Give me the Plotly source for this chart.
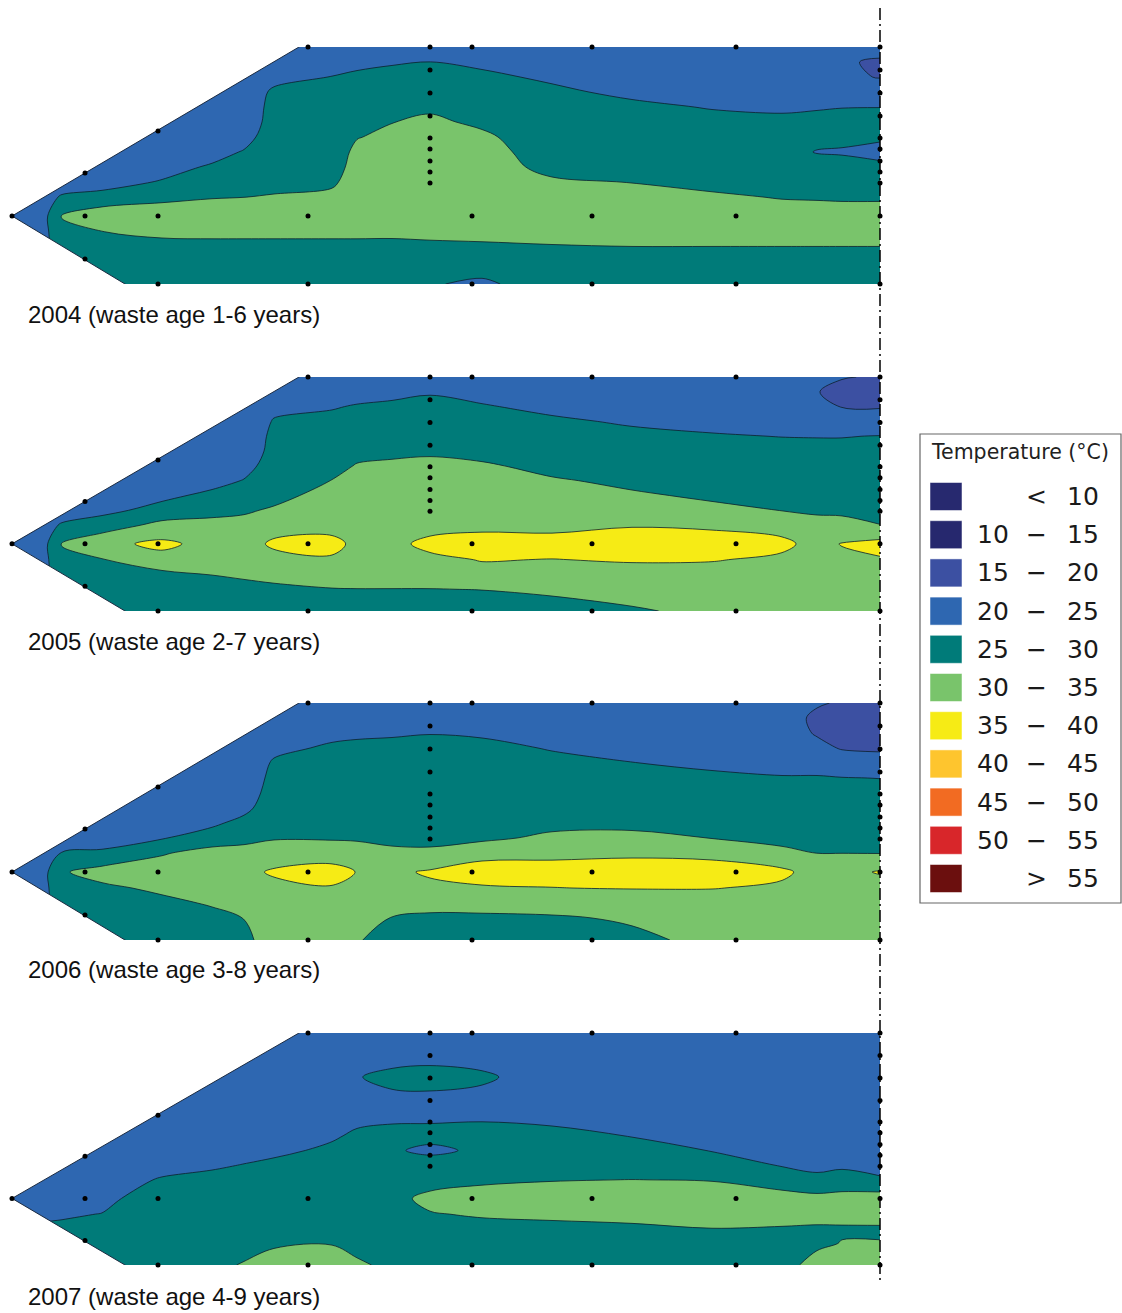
import numpy as np
import plotly.graph_objects as go

# ---------------- data ----------------
# horizontal positions of the interpolation grid (arbitrary units from the toe)
grid_x = [0, 33, 50, 90, 150, 200, 232, 262, 320, 345, 380, 418, 470, 540, 620, 700, 770, 805, 830, 868]
# depth below the top surface
grid_depth = [0, 15, 30, 45, 60, 75, 90, 105, 120, 135, 150, 169, 185, 200, 215, 237]

# temperature (°C) profiles, one list per grid_x column, top -> bottom
temp_2004 = [
    [23, 23, 23, 23, 23, 23, 23, 23, 23, 23, 23, 23, 23, 23, 23, 23],
    [23, 23, 23, 23, 23, 23, 23, 23, 23, 23, 24, 24, 24, 24, 24, 24],
    [22, 22, 22, 22, 22, 22, 22, 22, 23, 23.5, 25.3, 30.3, 28.5, 27.5, 27, 27],
    [22, 22, 22, 22, 22, 22, 22, 22, 23, 23.5, 26.2, 33.5, 29.9, 28, 27.5, 27],
    [22, 22, 22, 22, 22, 22, 22, 22, 23.5, 25.3, 28.5, 33.5, 31, 28.5, 27.5, 27],
    [22, 22, 22, 22, 22, 22, 22, 23.5, 25.5, 27, 29.7, 33, 31, 28.8, 27.5, 27],
    [22, 22, 22, 22, 22, 22, 23.5, 25.3, 26.5, 28, 29.95, 33, 31, 28.8, 27.5, 27],
    [22, 22.5, 23.5, 25.8, 26.5, 27, 27.3, 27.6, 28, 28.8, 30.3, 33, 31, 28.8, 27.5, 27],
    [22.5, 23.5, 25.1, 26, 26.5, 27, 27.3, 27.7, 28.3, 29.3, 31, 33, 31, 28.8, 27.5, 27],
    [23, 24.2, 25.6, 26.5, 27.3, 28.2, 29.8, 31, 31.5, 32, 32.5, 33, 31, 28.8, 27.5, 27],
    [23.5, 24.7, 26, 27, 28.3, 29.9, 31, 31.7, 32, 32.3, 32.6, 33, 31, 28.7, 27.5, 27],
    [23.5, 25.05, 26.3, 27.5, 29.3, 30.8, 31.5, 32, 32.3, 32.6, 32.8, 33, 31.2, 29, 27.2, 25.3],
    [23, 24.4, 25.6, 26.5, 27.5, 29.2, 30.8, 31.7, 32, 32.3, 32.6, 33, 31.3, 29.3, 27, 24.3],
    [22.5, 23.3, 24.5, 25.6, 26.3, 26.8, 27.3, 27.8, 28.8, 30.6, 31.8, 32.8, 31.5, 29.7, 28, 27],
    [22, 22.6, 23.3, 24.3, 25.7, 26.5, 27, 27.5, 28.3, 29.9, 31.4, 32.5, 31.3, 29.95, 28.5, 27.3],
    [22, 22.5, 23, 23.8, 24.8, 26, 26.6, 27, 27.5, 28.5, 30.8, 32.5, 31.3, 29.95, 28.5, 27.3],
    [22, 22.5, 23, 23.6, 24.5, 25.7, 26.3, 26.5, 27, 28, 29.7, 32.3, 31.3, 29.95, 28.5, 27.3],
    [22, 22, 22.5, 23.3, 24.7, 26, 26.2, 24.8, 26.8, 27.8, 29.5, 32.3, 31.3, 29.95, 28.5, 27.3],
    [22, 20.6, 20.8, 23, 24.9, 26.2, 26, 24.6, 26.5, 27.5, 29.3, 32.3, 31.3, 29.95, 28.5, 27.3],
    [22, 19.3, 19.8, 22.5, 24.95, 26.2, 26, 23, 26.5, 27.5, 29.3, 32.3, 31.3, 29.95, 28.5, 27.3],
]

temp_2005 = [
    [23, 23, 23, 23, 23, 23, 23, 23, 23, 23, 23, 23, 23, 23, 23, 23],
    [23, 23, 23, 23, 23, 23, 23, 23, 23, 23, 24, 24, 24, 24, 24, 24],
    [22, 22, 22, 22, 22, 22, 22, 22, 23, 23.5, 25.3, 30.3, 28.5, 27.5, 27, 27],
    [22, 22, 22, 22, 22, 22, 22, 22, 23, 23.8, 27.2, 33.8, 29.75, 28, 27.5, 27],
    [22, 22, 22, 22, 22, 22, 22, 22, 24, 26.5, 31.5, 36, 33.5, 28.7, 27.5, 27],
    [22, 22, 22, 22, 22, 22, 22, 23.5, 26, 28.7, 31.3, 33.5, 32, 30.1, 28.3, 27],
    [22, 22, 22, 22, 22, 22, 23.5, 25.2, 27, 29.5, 31.2, 33, 32.2, 30.6, 28.8, 27.5],
    [22, 22.5, 24, 25.3, 26, 26.5, 27, 27.7, 28.8, 30.5, 33, 35.8, 33.5, 31.3, 29.1, 27.5],
    [23, 23.8, 24.8, 25.7, 26.3, 27, 28, 30.1, 31.5, 32.3, 33.5, 36.2, 34.5, 32.3, 29.8, 27.5],
    [23, 24, 25.2, 26, 26.8, 28.2, 30.4, 31.5, 32.2, 32.8, 33.3, 34, 33.5, 32.3, 29.9, 27.5],
    [23, 24.3, 25.5, 26.4, 27.3, 29, 30.8, 31.6, 32.2, 32.8, 33.2, 33.8, 33.3, 32.2, 29.9, 27.5],
    [23.3, 24.7, 26, 26.8, 27.7, 29.4, 31, 31.8, 32.3, 32.8, 33.3, 36.2, 34, 32.3, 29.9, 27.5],
    [23, 24.2, 25.2, 26, 26.8, 28, 30.8, 31.8, 32.4, 33, 33.5, 37.5, 35.2, 33.7, 30.1, 27.5],
    [22.5, 23.5, 24.4, 25.4, 26, 26.8, 28.3, 30.6, 31.7, 32.7, 33.5, 37, 34.9, 33, 31, 27.8],
    [22.3, 23, 23.8, 24.7, 25.6, 26.4, 27.3, 28.8, 30.7, 32.5, 34.6, 38, 35.4, 33.4, 31.8, 29.5],
    [22.2, 22.8, 23.5, 24.3, 25.2, 26, 26.8, 27.8, 29.2, 31.2, 34.1, 37.5, 35.25, 33.4, 32, 31],
    [22.2, 22.8, 23.4, 24, 24.95, 25.8, 26.5, 27.3, 28.3, 29.9, 33.3, 36, 34.2, 33, 32, 31],
    [21.5, 20.2, 21.5, 23.5, 24.9, 25.8, 26.5, 27.2, 28, 29.3, 31.5, 33.5, 33, 32.5, 32, 31],
    [20.3, 18.5, 19.8, 23, 24.9, 25.8, 26.5, 27.2, 28, 29.2, 31.3, 35.2, 34, 33, 32, 31],
    [19.5, 18, 19.6, 22.8, 25.1, 26, 26.7, 27.4, 28.2, 29.1, 30.05, 36.5, 34.6, 33, 32, 31],
]

temp_2006 = [
    [23, 23, 23, 23, 23, 23, 23, 23, 23, 23, 23, 23, 23, 23, 23, 23],
    [23, 23, 23, 23, 23, 23, 23, 23, 23, 23, 24, 24, 24, 24, 24, 24],
    [22, 22, 22, 22, 22, 22, 22, 22, 23, 23.5, 25.1, 29.5, 28.3, 27.5, 27, 27],
    [22, 22, 22, 22, 22, 22, 22, 22, 23, 23.5, 25.5, 32, 29, 28, 27.5, 27],
    [22, 22, 22, 22, 22, 22, 22, 22, 23.5, 24.7, 29.5, 33, 31, 28.8, 27.5, 27],
    [22, 22, 22, 22, 22, 22, 22, 22.5, 24.2, 27, 32, 33.5, 32.5, 30.5, 28.6, 27],
    [22, 22, 22, 22, 22, 22, 22.5, 23.8, 26.3, 28.8, 31.5, 33.5, 32.8, 31.5, 30.05, 29.5],
    [22, 22.5, 23.2, 24, 25.5, 26.3, 27, 27.7, 28.5, 29.7, 32, 35.7, 33.5, 32, 31.5, 31],
    [22.3, 23, 24, 25.6, 26.3, 26.9, 27.4, 28, 28.8, 29.6, 32.3, 37, 34.6, 32.5, 31.5, 30.8],
    [22.5, 23.3, 24.4, 25.8, 26.4, 27, 27.5, 28, 28.8, 29.5, 31.8, 34.83, 33.5, 32, 31, 30.3],
    [22.8, 23.5, 24.7, 25.7, 26.3, 26.9, 27.4, 27.9, 28.5, 29.3, 30.6, 34, 33, 31.5, 29.9, 28.5],
    [23, 23.7, 24.9, 25.9, 26.4, 27, 27.5, 28, 28.7, 29.4, 30.4, 35.6, 34, 31.5, 29.2, 28],
    [23, 23.8, 24.7, 25.6, 26.3, 26.9, 27.4, 27.9, 28.4, 29, 33.4, 37.2, 34.5, 31.5, 29.3, 28],
    [22.6, 23.3, 24, 24.85, 25.6, 26.3, 26.9, 27.6, 28.6, 31, 33.8, 37, 34.9, 32, 29.5, 28],
    [22.3, 22.9, 23.6, 24.3, 25.05, 26, 26.7, 27.6, 28.8, 31.2, 34.03, 37.7, 35.3, 30.8, 30.5, 29.1],
    [22.2, 22.7, 23.3, 23.9, 24.5, 25.5, 26.3, 27.2, 28.5, 29.9, 33.66, 37.3, 35.2, 32.2, 31.5, 31],
    [22, 22.3, 22.8, 23.4, 24, 25.2, 26, 26.8, 27.6, 28.5, 31.2, 36, 34.1, 32.5, 31.5, 31],
    [20.5, 19, 19.5, 21.5, 24, 25.2, 26, 26.7, 27.4, 28.2, 29.95, 33, 32.5, 32, 31.5, 31],
    [19.5, 18.5, 18.5, 19.6, 23, 25.1, 26, 26.7, 27.4, 28.2, 29.95, 33.5, 32.5, 32, 31.5, 31],
    [19, 18, 18, 19.3, 22, 24.95, 26, 26.7, 27.4, 28.2, 29.85, 35.4, 33, 32, 31.5, 31],
]

temp_2007 = [
    [23, 23, 23, 23, 23, 23, 23, 23, 23, 23, 23, 23, 23, 23, 23, 23],
    [23, 23, 23, 23, 23, 23, 23, 23, 23, 23, 23, 23.5, 24.3, 25.5, 26.5, 27],
    [23, 23, 23, 23, 23, 23, 23, 23, 23, 23, 23.3, 23.8, 24.5, 25.8, 27, 27.5],
    [23, 23, 23, 23, 23, 23, 23, 23, 23, 23, 23.3, 23.8, 25.1, 27, 27.7, 28],
    [22.5, 22.5, 22.5, 22.5, 22.5, 22.5, 22.5, 23, 23.3, 23.8, 25.3, 27.5, 27.6, 27.6, 27.7, 28],
    [22.5, 22.5, 22.5, 22.5, 22.5, 22.5, 22.8, 23.1, 23.5, 24.6, 25.8, 26.8, 27.2, 27.6, 28.2, 29],
    [22.5, 22.5, 22.5, 22.5, 22.5, 22.8, 23, 23.4, 24, 25.1, 26, 26.8, 27.3, 27.8, 28.5, 30.3],
    [22.5, 22.5, 22.5, 22.5, 22.6, 22.8, 23.1, 23.4, 24.3, 25.7, 26.3, 26.9, 27.5, 28.3, 29.7, 31],
    [22.5, 22.5, 22.6, 22.7, 22.9, 23.2, 23.6, 24.6, 25.6, 26.3, 26.8, 27.3, 27.8, 28.7, 29.9, 31.2],
    [22.5, 23, 24, 24.8, 24, 23.6, 24.5, 25.5, 26.1, 26.6, 27, 27.5, 28, 28.5, 29, 30.5],
    [22.5, 23.2, 24.3, 26, 24.8, 24, 24.8, 25.8, 25.4, 26.5, 27.3, 28.5, 28.8, 28.7, 28.8, 29.3],
    [22.7, 23.3, 24.5, 26.8, 24.9, 23.8, 24.8, 26, 24.3, 26.5, 28, 31.3, 29.7, 28.5, 28.3, 28.5],
    [22.7, 23.3, 24.2, 25.6, 24.5, 23.8, 24.95, 26, 25.6, 27, 29.2, 32, 30.5, 28.5, 27.8, 27.5],
    [22.5, 22.7, 22.9, 23.1, 23.3, 23.5, 24.6, 25.8, 26.5, 27.5, 29.8, 32.2, 31, 28.7, 27.8, 27.5],
    [22.5, 22.6, 22.7, 22.9, 23.1, 23.4, 23.7, 24.9, 26.1, 27.5, 30.05, 32.3, 31.2, 29.3, 28, 27.5],
    [22.5, 22.5, 22.6, 22.7, 22.9, 23.1, 23.4, 23.8, 24.9, 26.3, 29.8, 32.3, 31.3, 29.95, 28.5, 27.8],
    [22.5, 22.5, 22.5, 22.6, 22.7, 22.9, 23.1, 23.4, 23.8, 24.8, 27.5, 32, 31, 29.8, 28.8, 29],
    [22.5, 22.5, 22.5, 22.6, 22.7, 22.9, 23.1, 23.4, 23.7, 24.1, 25.9, 31.5, 30.8, 29.7, 29.5, 31],
    [22.5, 22.5, 22.5, 22.6, 22.7, 22.9, 23.1, 23.4, 23.8, 24.4, 26.5, 32, 30.9, 29.7, 30.1, 31.3],
    [22.5, 22.5, 22.5, 22.6, 22.7, 22.9, 23.1, 23.4, 23.8, 24.2, 25.3, 32.5, 31, 29.7, 30.1, 31.3],
]

panel_titles = [
    "2004 (waste age 1-6 years)",
    "2005 (waste age 2-7 years)",
    "2006 (waste age 3-8 years)",
    "2007 (waste age 4-9 years)",
]
panel_temps = [temp_2004, temp_2005, temp_2006, temp_2007]

# landfill cross-section outline (toe, crest, top right, bottom right, bottom left)
outline_x = [0, 287, 868, 868, 113]
outline_depth = [169, 0, 0, 237, 237]

# measurement points
sensor_x = ([0, 73, 146]
            + [296, 418, 460, 580, 724, 868]
            + [418] * 8
            + [73, 146, 296, 460, 580, 724, 868]
            + [146, 296, 460, 580, 724, 868]
            + [73]
            + [868] * 8)
sensor_depth = ([169, 126, 84]
                + [0] * 6
                + [23, 46, 69, 91, 102, 114, 125, 136]
                + [169] * 7
                + [237] * 6
                + [212]
                + [23, 46, 69, 91, 102, 114, 125, 136])

# temperature classes
class_colors = ["#27296F", "#26286E", "#3C50A2", "#2E67B1", "#007B79", "#79C46B",
                "#F6EB15", "#FEC52E", "#F26B22", "#D8262A", "#6B0F0E"]
class_low = ["", "10", "15", "20", "25", "30", "35", "40", "45", "50", ""]
class_sep = ["<", "−", "−", "−", "−", "−", "−", "−", "−", "−", ">"]
class_high = ["10", "15", "20", "25", "30", "35", "40", "45", "50", "55", "55"]

# ---------------- layout helpers ----------------
W, H = 1122, 1313
panel_px = [(47, 284), (377, 611), (703, 940), (1033, 1265)]  # top, bottom (px)
label_px_y = [314, 641, 969, 1296]
x_px = (12, 880)


def px_x(p):
    return p / W


def px_y(p):
    return 1 - p / H


colorscale = [[i / (len(class_colors) - 1), c] for i, c in enumerate(class_colors)]

fig = go.Figure()
layout_axes = {}

tip = (outline_x[0], outline_depth[0])
crest = (outline_x[1], outline_depth[1])
heel = (outline_x[4], outline_depth[4])
up_ext = (crest[0] + (crest[0] - tip[0]) * 0.5, crest[1] + (crest[1] - tip[1]) * 0.5)
lo_ext = (heel[0] + (heel[0] - tip[0]) * 1.0, heel[1] + (heel[1] - tip[1]) * 1.0)

for i, (temps, (top, bot)) in enumerate(zip(panel_temps, panel_px)):
    k = "" if i == 0 else str(i + 1)
    xa, ya = "x" + k, "y" + k
    z = np.array(temps, dtype=float).T.tolist()
    fig.add_trace(go.Contour(
        x=grid_x, y=grid_depth, z=z,
        contours=dict(start=10, end=55, size=5, coloring="fill", showlines=True),
        line=dict(color="#0c1f2c", width=0.8, smoothing=1.0),
        colorscale=colorscale, showscale=False, hoverinfo="skip",
        xaxis=xa, yaxis=ya,
    ))
    # white masks outside the sloped faces
    fig.add_trace(go.Scatter(
        x=[tip[0], up_ext[0], -100, -100, tip[0]],
        y=[tip[1], up_ext[1], up_ext[1], tip[1], tip[1]],
        mode="lines", fill="toself", fillcolor="white",
        line=dict(color="#1b2a40", width=1), hoverinfo="skip", showlegend=False,
        xaxis=xa, yaxis=ya,
    ))
    fig.add_trace(go.Scatter(
        x=[tip[0], lo_ext[0], -100, -100, tip[0]],
        y=[tip[1], lo_ext[1], lo_ext[1], tip[1], tip[1]],
        mode="lines", fill="toself", fillcolor="white",
        line=dict(color="#1b2a40", width=1), hoverinfo="skip", showlegend=False,
        xaxis=xa, yaxis=ya,
    ))
    fig.add_trace(go.Scatter(
        x=sensor_x, y=sensor_depth, mode="markers",
        marker=dict(size=5, color="black"), cliponaxis=False,
        hoverinfo="skip", showlegend=False, xaxis=xa, yaxis=ya,
    ))
    layout_axes["xaxis" + k] = dict(domain=[px_x(x_px[0]), px_x(x_px[1])], range=[0, 868],
                                    visible=False, anchor=ya, fixedrange=True)
    layout_axes["yaxis" + k] = dict(domain=[px_y(bot), px_y(top)], range=[237, 0],
                                    visible=False, anchor=xa, fixedrange=True)

shapes = []
annotations = []

# dash-dot symmetry line at the right edge
shapes.append(dict(type="line", xref="paper", yref="paper",
                   x0=px_x(880), x1=px_x(880), y0=px_y(8), y1=px_y(1282),
                   line=dict(color="black", width=1.5, dash="12px,4px,2px,4px")))

for t, yl in zip(panel_titles, label_px_y):
    annotations.append(dict(text=t, xref="paper", yref="paper", x=px_x(26), y=px_y(yl),
                            xanchor="left", yanchor="middle", showarrow=False,
                            font=dict(family="Liberation Sans, Arial", size=24, color="#111111")))

# legend box
shapes.append(dict(type="rect", xref="paper", yref="paper",
                   x0=px_x(920), x1=px_x(1121), y0=px_y(903), y1=px_y(434),
                   line=dict(color="#666666", width=1.2), fillcolor="white"))
annotations.append(dict(text="Temperature (°C)", xref="paper", yref="paper",
                        x=px_x(1020), y=px_y(452), xanchor="center", yanchor="middle",
                        showarrow=False,
                        font=dict(family="DejaVu Sans", size=20.5, color="#222222")))
row0, dy = 496.5, 38.2
for j, (c, lo, sep, hi) in enumerate(zip(class_colors, class_low, class_sep, class_high)):
    yc = row0 + j * dy
    shapes.append(dict(type="rect", xref="paper", yref="paper",
                       x0=px_x(930), x1=px_x(962), y0=px_y(yc + 14), y1=px_y(yc - 14),
                       line=dict(color="rgba(255,255,255,0.5)", width=1), fillcolor=c))
    f = dict(family="DejaVu Sans", size=25, color="#1a1a1a")
    if lo:
        annotations.append(dict(text=lo, xref="paper", yref="paper", x=px_x(1011), y=px_y(yc),
                                xanchor="right", yanchor="middle", showarrow=False, font=f))
    annotations.append(dict(text=sep, xref="paper", yref="paper", x=px_x(1036), y=px_y(yc),
                            xanchor="center", yanchor="middle", showarrow=False, font=f))
    annotations.append(dict(text=hi, xref="paper", yref="paper", x=px_x(1101), y=px_y(yc),
                            xanchor="right", yanchor="middle", showarrow=False, font=f))

fig.update_layout(
    width=W, height=H, margin=dict(l=0, r=0, t=0, b=0),
    paper_bgcolor="white", plot_bgcolor="white", showlegend=False,
    shapes=shapes, annotations=annotations, **layout_axes,
)

fig.write_html("out.html")
